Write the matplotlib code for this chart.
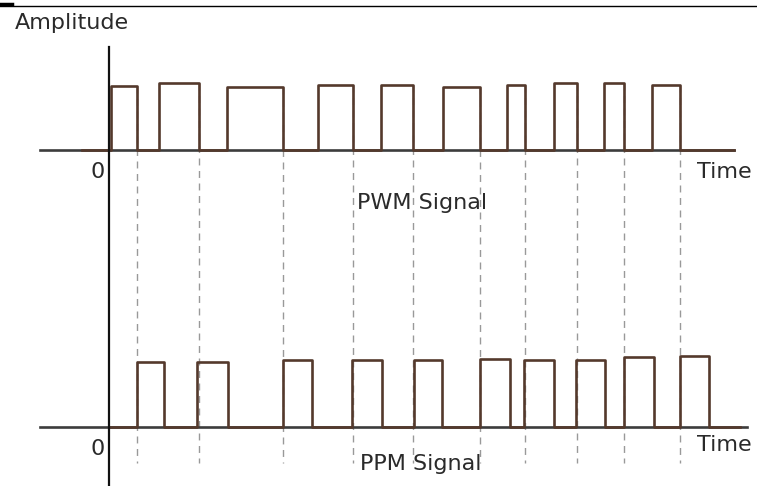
import numpy as np
import matplotlib
matplotlib.use('Agg')
import matplotlib.pyplot as plt
from matplotlib.lines import Line2D

# pulse edges (time units) and levels (amplitude units)
pwm_rise = [0.2, 5.0, 11.8, 20.9, 27.2, 33.4, 39.8, 44.5, 49.5, 54.3]
pwm_fall = [2.8, 9.0, 17.4, 24.4, 30.4, 37.1, 41.6, 46.8, 51.5, 57.1]
pwm_level = [0.98, 1.03, 0.97, 1.0, 1.0, 0.97, 1.0, 1.03, 1.03, 1.0]

ppm_start = [2.8, 8.8, 17.4, 24.3, 30.5, 37.1, 41.5, 46.7, 51.5, 57.1]
ppm_end = [5.5, 11.9, 20.3, 27.3, 33.3, 40.1, 44.5, 49.6, 54.5, 60.0]
ppm_level = [1.0, 1.0, 1.03, 1.03, 1.03, 1.05, 1.03, 1.03, 1.08, 1.09]

PWM_OFFSET = 4.26   # vertical place of the PWM baseline
TRACE = '#54392c'
AXIS = '#3c3c3c'
TXT = '#2a2a2a'


def step_trace(starts, ends, levels, t0, t1):
    xs, ys = [t0], [0.0]
    for s, e, h in zip(starts, ends, levels):
        xs += [s, s, e, e]
        ys += [0.0, h, h, 0.0]
    xs.append(t1)
    ys.append(0.0)
    return np.array(xs), np.array(ys)


fig = plt.figure(figsize=(7.57, 4.86), dpi=100)
ax = fig.add_axes([0, 0, 1, 1])
ax.set_xlim(-10.9, 64.8)
ax.set_ylim(-0.908, 6.569)
ax.axis('off')

# time axes and amplitude axis
ax.plot([-6.9, 62.5], [PWM_OFFSET, PWM_OFFSET], color=AXIS, lw=1.9, zorder=2)
ax.plot([-6.9, 63.8], [0, 0], color=AXIS, lw=1.9, zorder=2)
ax.plot([0, 0], [5.85, -1.0], color='#111111', lw=1.6, zorder=4)

# dashed guides from the PWM trailing edges down to the PPM pulses
for t, h in zip(pwm_fall, pwm_level):
    ax.plot([t, t], [PWM_OFFSET + h, -0.55], color='#999999', lw=1.0,
            linestyle=(0, (5, 4)), zorder=1)

# PWM signal
x, y = step_trace(pwm_rise, pwm_fall, pwm_level, -2.7, 62.5)
ax.plot(x, y + PWM_OFFSET, color=TRACE, lw=1.9, zorder=3)

# PPM signal
x, y = step_trace(ppm_start, ppm_end, ppm_level, 0.0, 63.1)
ax.plot(x, y, color=TRACE, lw=1.9, zorder=3)

fs = 16
ax.text(-9.4, 6.37, 'Amplitude', fontsize=fs, color=TXT, ha='left', va='top')
ax.text(-1.1, 3.93, '0', fontsize=fs, color=TXT, ha='center', va='center')
ax.text(-1.1, -0.34, '0', fontsize=fs, color=TXT, ha='center', va='center')
ax.text(58.8, 3.93, 'Time', fontsize=fs, color=TXT, ha='left', va='center')
ax.text(58.8, -0.28, 'Time', fontsize=fs, color=TXT, ha='left', va='center')
ax.text(31.3, 3.45, 'PWM Signal', fontsize=fs, color=TXT, ha='center', va='center')
ax.text(31.2, -0.57, 'PPM Signal', fontsize=fs, color=TXT, ha='center', va='center')

# thin rule across the top of the picture
fig.add_artist(Line2D([0, 1], [1 - 6 / 486, 1 - 6 / 486], color='black', lw=1.0))
fig.add_artist(Line2D([0, 12 / 757], [1 - 4.5 / 486, 1 - 4.5 / 486], color='black', lw=2.5))

fig.savefig('out.png', dpi=100)
